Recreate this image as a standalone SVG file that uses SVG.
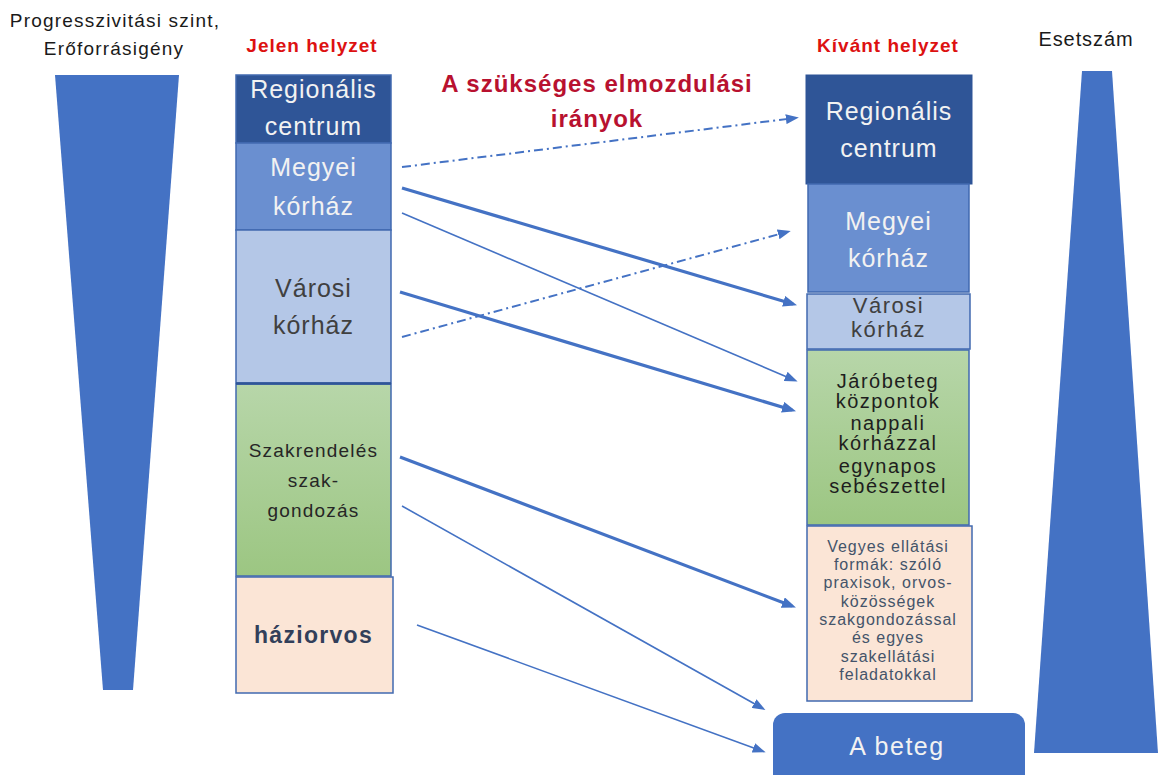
<svg xmlns="http://www.w3.org/2000/svg" width="1162" height="775" viewBox="0 0 1162 775">
<style>
text{font-family:"Liberation Sans",Arial,sans-serif;text-anchor:middle}
.hdr{font-size:19px;fill:#1A1A1A;letter-spacing:1.2px}
.red{font-size:19px;font-weight:bold;fill:#DD1111;letter-spacing:1px}
.title{font-size:24px;font-weight:bold;fill:#B8112F;letter-spacing:1px}
.big{font-size:25px;letter-spacing:1px}
.w{fill:#F2F2F2}
.g{fill:#404040}
.mid{font-size:22px;letter-spacing:1.5px;fill:#404040}
.jaro{font-size:20px;letter-spacing:1.5px;fill:#1E1E1E}
.veg{font-size:16px;letter-spacing:1px;fill:#44546A}
.szak{font-size:19px;letter-spacing:1.2px;fill:#262626}
.hazi{font-size:23px;font-weight:bold;letter-spacing:1.3px;fill:#323F5A}
.box{stroke:#4169B0;stroke-width:1.5}
.tri{fill:#4472C4}
.con{fill:none;stroke:#4472C4}
.thick{stroke-width:3.2}
.thin{stroke-width:1.6}
.dd{stroke-width:2;stroke-dasharray:9 4 2 4}
</style>
<defs>
<linearGradient id="green" x1="0" y1="0" x2="0" y2="1">
<stop offset="0" stop-color="#B7D6A9"/>
<stop offset="1" stop-color="#9CC682"/>
</linearGradient>
<marker id="ahT" viewBox="0 0 10 10" refX="7" refY="5" markerWidth="14" markerHeight="11" orient="auto" markerUnits="userSpaceOnUse" preserveAspectRatio="none"><path d="M0,0 L10,5 L0,10 Z" fill="#4472C4"/></marker>
<marker id="ahS" viewBox="0 0 10 10" refX="7" refY="5" markerWidth="13" markerHeight="10" orient="auto" markerUnits="userSpaceOnUse" preserveAspectRatio="none"><path d="M0,0 L10,5 L0,10 Z" fill="#4472C4"/></marker>
</defs>
<rect width="1162" height="775" fill="#FFFFFF"/>

<g id="header-left">
<text class="hdr" x="115" y="27">Progresszivitási szint,</text>
<text class="hdr" x="114" y="55">Erőforrásigény</text>
</g>
<g id="header-jelen"><text class="red" x="312" y="52">Jelen helyzet</text></g>
<g id="header-kivant"><text class="red" x="888" y="52">Kívánt helyzet</text></g>
<g id="header-eset"><text class="hdr" x="1086" y="46" style="font-size:20px;letter-spacing:0.9px">Esetszám</text></g>
<g id="title">
<text class="title" x="597" y="92">A szükséges elmozdulási</text>
<text class="title" x="597" y="127">irányok</text>
</g>

<g id="triangle-left"><polygon class="tri" points="55,75 179,75 133,690 103,690"/></g>
<g id="triangle-right"><polygon class="tri" points="1082,71 1112,71 1158,753 1034,753"/></g>

<g id="L-regionalis">
<rect class="box" x="236" y="75" width="155" height="68" fill="#2F5597"/>
<text class="big w" x="313.5" y="98">Regionális</text>
<text class="big w" x="313.5" y="135">centrum</text>
</g>
<g id="L-megyei">
<rect class="box" x="236" y="143" width="155" height="87" fill="#6A8FD0"/>
<text class="big w" x="313.5" y="176">Megyei</text>
<text class="big w" x="313.5" y="215">kórház</text>
</g>
<g id="L-varosi">
<rect class="box" x="236" y="230" width="155" height="153" fill="#B4C7E7"/>
<text class="big g" x="313.5" y="297">Városi</text>
<text class="big g" x="313.5" y="334">kórház</text>
</g>
<g id="L-szak">
<rect class="box" x="236" y="384" width="155" height="192" fill="url(#green)"/>
<line x1="236" y1="383.5" x2="391" y2="383.5" stroke="#2F5597" stroke-width="2.5"/>
<text class="szak" x="313.5" y="457">Szakrendelés</text>
<text class="szak" x="313.5" y="487">szak-</text>
<text class="szak" x="313.5" y="517">gondozás</text>
</g>
<g id="L-hazi">
<rect class="box" x="236" y="577" width="157" height="116" fill="#FBE5D6"/>
<text class="hazi" x="313.5" y="643">háziorvos</text>
</g>

<g id="R-regionalis">
<rect x="806" y="75" width="166" height="109" fill="#2F5597" stroke="#2F5597" stroke-width="1"/>
<text class="big w" x="889" y="120">Regionális</text>
<text class="big w" x="889" y="157">centrum</text>
</g>
<g id="R-megyei">
<rect class="box" x="808" y="184" width="161" height="108" fill="#6A8FD0"/>
<text class="big w" x="888.5" y="230">Megyei</text>
<text class="big w" x="888.5" y="267">kórház</text>
</g>
<g id="R-varosi">
<rect class="box" x="807" y="294" width="163" height="55" fill="#B4C7E7"/>
<text class="mid" x="888.5" y="313">Városi</text>
<text class="mid" x="888.5" y="337">kórház</text>
</g>
<g id="R-jaro">
<rect class="box" x="807" y="350" width="162" height="175" fill="url(#green)"/>
<text class="jaro" x="888" y="388">Járóbeteg</text>
<text class="jaro" x="888" y="408">központok</text>
<text class="jaro" x="888" y="430">nappali</text>
<text class="jaro" x="888" y="450">kórházzal</text>
<text class="jaro" x="888" y="473">egynapos</text>
<text class="jaro" x="888" y="493">sebészettel</text>
</g>
<g id="R-vegyes">
<rect class="box" x="807" y="526" width="165" height="175" fill="#FBE5D6"/>
<text class="veg" x="888" y="552">Vegyes ellátási</text>
<text class="veg" x="888" y="570">formák: szóló</text>
<text class="veg" x="888" y="588">praxisok, orvos-</text>
<text class="veg" x="888" y="607">közösségek</text>
<text class="veg" x="888" y="625">szakgondozással</text>
<text class="veg" x="888" y="643">és egyes</text>
<text class="veg" x="888" y="662">szakellátási</text>
<text class="veg" x="888" y="680">feladatokkal</text>
</g>
<g id="beteg">
<rect x="773" y="713" width="252" height="80" rx="12" fill="#4472C4"/>
<text class="big w" x="897" y="755" style="letter-spacing:1.5px">A beteg</text>
</g>

<g id="connectors">
<line class="con dd" x1="402" y1="167" x2="795" y2="118" marker-end="url(#ahS)"/>
<line class="con dd" x1="402" y1="337" x2="787" y2="232" marker-end="url(#ahS)"/>
<line class="con thick" x1="402" y1="188" x2="793" y2="304" marker-end="url(#ahT)"/>
<line class="con thin" x1="402" y1="213" x2="794" y2="380" marker-end="url(#ahS)"/>
<line class="con thick" x1="400" y1="292" x2="792" y2="410" marker-end="url(#ahT)"/>
<line class="con thick" x1="400" y1="457" x2="792" y2="606" marker-end="url(#ahT)"/>
<line class="con thin" x1="402" y1="506" x2="762" y2="708" marker-end="url(#ahS)"/>
<line class="con thin" x1="417" y1="625" x2="762" y2="751" marker-end="url(#ahS)"/>
</g>
</svg>
